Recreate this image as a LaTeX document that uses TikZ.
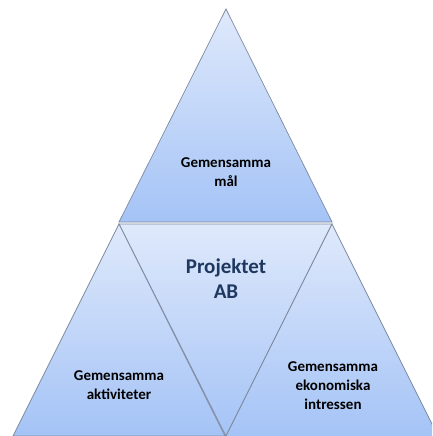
\documentclass[tikz,border=0pt]{standalone}
\usepackage{fontspec}
\setmainfont{Carlito}
\definecolor{tri top}{RGB}{223,233,251}
\definecolor{tri bot}{RGB}{164,195,246}
\definecolor{tri line}{RGB}{125,138,160}
\definecolor{title col}{RGB}{31,56,96}
\tikzset{
  tri/.style={draw=tri line, line width=0.7pt, line join=miter, top color=tri top, bottom color=tri bot},
  lbl/.style={align=center, font=\bfseries\fontsize{15}{19}\selectfont, text=black, inner sep=0pt},
  big/.style={align=center, font=\bfseries\fontsize{21}{25}\selectfont, text=title col, inner sep=0pt}
}
\begin{document}
\begin{tikzpicture}[x=1pt,y=-1pt]
\useasboundingbox (0,0) rectangle (432,436);
\clip (0,0) rectangle (432,436);
% top triangle
\path[tri] (226,9) -- (332,222) -- (119,222) -- cycle;
% middle inverted triangle
\path[tri] (119,224) -- (332,224) -- (226,436) -- cycle;
% left triangle
\path[tri] (119,224) -- (225,436) -- (13,436) -- cycle;
% right triangle
\path[tri] (332,224) -- (439,438) -- (225,438) -- cycle;
\node[lbl] (top) at (226,172) {Gemensamma\\mål};
\node[big] (mid) at (226,279) {Projektet\\AB};
\node[lbl] (left) at (119,385) {Gemensamma\\aktiviteter};
\node[lbl] (right) at (333,386) {Gemensamma\\ekonomiska\\intressen};
\end{tikzpicture}
\end{document}
